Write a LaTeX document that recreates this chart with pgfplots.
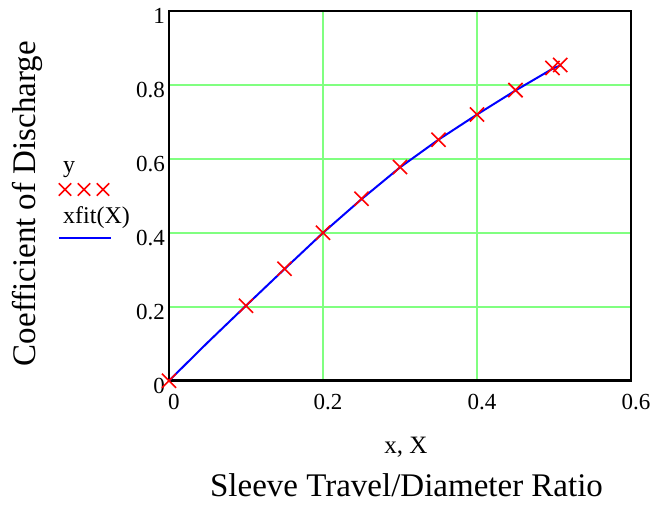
\documentclass[border=0pt]{standalone}
\usepackage{pgfplots}
\pgfplotsset{compat=1.18}
\usepackage{fontspec}
\setmainfont{Liberation Serif}
\definecolor{gridgreen}{RGB}{128,255,128}
\definecolor{markred}{RGB}{255,0,0}
\definecolor{fitblue}{RGB}{0,0,255}
\pgfplotstableread{
x y
0 0
0.1 0.203
0.15 0.303
0.2 0.400
0.25 0.492
0.3 0.578
0.35 0.652
0.4 0.720
0.45 0.786
0.498 0.846
0.508 0.854
}\measured
\pgfplotstableread{
x y
0 0
0.05 0.103
0.1 0.203
0.15 0.302
0.2 0.400
0.25 0.491
0.3 0.577
0.35 0.652
0.4 0.720
0.45 0.785
0.5 0.846
0.509 0.853
}\fit
\begin{document}
\begin{tikzpicture}[x=1pt,y=1pt]
\path[use as bounding box] (-169,-123.3) rectangle (484,380.7);
\begin{axis}[
  at={(0,0)}, anchor=south west,
  scale only axis, width=462pt, height=369.7pt,
  xmin=0, xmax=0.6, ymin=0, ymax=1,
  xtick={0,0.2,0.4,0.6}, ytick={0,0.2,0.4,0.6,0.8,1},
  xticklabels={0,0.2,0.4,0.6}, yticklabels={0,0.2,0.4,0.6,0.8,1},
  grid=major, major grid style={gridgreen, line width=1.6pt},
  major tick length=0pt,
  axis line style={line width=2.7pt, black},
  ticklabel style={font=\fontsize{23}{27}\selectfont},
  /pgf/number format/assume math mode=true,
  xticklabel style={anchor=north, inner sep=0pt, yshift=-13pt, xshift=5pt},
  yticklabel style={anchor=east, inner sep=0pt, xshift=-4pt, yshift=-5pt},
  xlabel={x, X},
  xlabel style={font=\fontsize{25}{30}\selectfont, at={(axis description cs:0.513,-0.196)}, anchor=base, inner sep=0pt},
  ylabel={Coefficient of Discharge},
  ylabel style={font=\fontsize{33}{40}\selectfont, at={(axis description cs:-0.307,0.479)}, anchor=center, rotate=0},
]
\addplot[fitblue, line width=2pt, no markers] table[x=x,y=y] {\fit};
\addplot[only marks, mark=x, mark size=10pt, mark options={markred, line width=1.6pt}] table[x=x,y=y] {\measured};
\end{axis}
\node[font=\fontsize{33}{40}\selectfont, anchor=base, inner sep=0pt] at (237.5,-116) {Sleeve Travel/Diameter Ratio};
% legend
\node[font=\fontsize{24}{28}\selectfont, anchor=base west, inner sep=0pt] at (-106,208.7) {y};
\foreach \cx in {-104,-85,-66} {
  \draw[markred, line width=1.6pt] (\cx-6.2,191.2-6.2) -- (\cx+6.2,191.2+6.2) (\cx-6.2,191.2+6.2) -- (\cx+6.2,191.2-6.2);
}
\node[font=\fontsize{24}{28}\selectfont, anchor=base west, inner sep=0pt] at (-106,157) {xfit(X)};
\draw[fitblue, line width=2pt] (-110,142.7) -- (-58,142.7);
\end{tikzpicture}
\end{document}
